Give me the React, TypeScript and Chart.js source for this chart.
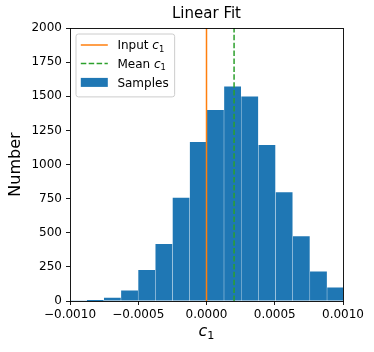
import { useEffect, useRef } from 'react';
import { Chart, registerables } from 'chart.js';

Chart.register(...registerables);

// ---- data ----
const binCenters = [
  -0.0009411, -0.0008153, -0.0006895, -0.0005637, -0.0004379, -0.0003121,
  -0.0001863, -0.0000605, 0.0000653, 0.0001911, 0.0003169, 0.0004427,
  0.0005685, 0.0006943, 0.0008201, 0.0009459,
];
const sampleCounts = [2, 8, 28, 80, 231, 421, 759, 1168, 1403, 1574, 1501, 1146, 800, 477, 220, 103];
const inputC1 = 0;
const meanC1 = 0.000202;
const yRange = [0, 2000];
const xRange = [-0.001, 0.001];
const xTickValues = [-0.001, -0.0005, 0, 0.0005, 0.001];
const xTickLabels = ['−0.0010', '−0.0005', '0.0000', '0.0005', '0.0010'];
const yTickValues = [0, 250, 500, 750, 1000, 1250, 1500, 1750, 2000];
const yTickLabels = ['0', '250', '500', '750', '1000', '1250', '1500', '1750', '2000'];
const legendLabels = ['Input', 'Mean', 'Samples'];
const chartTitle = 'Linear Fit';
const yTitle = 'Number';
const xTitleSymbol = 'c';
const xTitleSub = '1';

const BLUE = '#1f77b4';
const ORANGE = '#ff7f0e';
const GREEN = '#2ca02c';
const FONT = '"DejaVu Sans"';

function drawSymbolText(
  ctx: CanvasRenderingContext2D,
  parts: { text: string; italic?: boolean; sub?: boolean }[],
  x: number,
  baseline: number,
  size: number,
  measureOnly = false
) {
  let cx = x;
  for (const p of parts) {
    const fs = p.sub ? size * 0.7 : size;
    ctx.font = `${p.italic ? 'italic ' : ''}${fs}px ${FONT}`;
    const w = ctx.measureText(p.text).width;
    if (!measureOnly) {
      ctx.fillText(p.text, cx, p.sub ? baseline + size * 0.2 : baseline);
    }
    cx += w;
  }
  return cx - x;
}

const framePlugin = {
  id: 'mplFrame',
  afterDatasetsDraw(chart: any) {
    const ctx = chart.ctx as CanvasRenderingContext2D;
    const a = chart.chartArea;
    ctx.save();
    ctx.strokeStyle = '#000';
    ctx.lineWidth = 0.9;
    ctx.strokeRect(Math.round(a.left) + 0.5, Math.round(a.top) + 0.5, Math.round(a.right) - Math.round(a.left), Math.round(a.bottom) - Math.round(a.top));
    ctx.restore();
  },
};

const textPlugin = {
  id: 'mplText',
  afterDraw(chart: any) {
    const ctx = chart.ctx as CanvasRenderingContext2D;
    const a = chart.chartArea;
    ctx.save();
    ctx.fillStyle = '#000';
    ctx.textBaseline = 'alphabetic';
    ctx.textAlign = 'left';

    // x-axis title c_1
    const xParts = [
      { text: xTitleSymbol, italic: true },
      { text: xTitleSub, sub: true },
    ];
    const xw = drawSymbolText(ctx, xParts, 0, 0, 16, true);
    drawSymbolText(ctx, xParts, (a.left + a.right) / 2 - xw / 2, 336, 16);

    // legend
    const fs = 12;
    const x0 = a.left + 6;
    const y0 = a.top + 6;
    const rowCenters = [y0 + 11, y0 + 29.6, y0 + 48.4];
    const handleX0 = x0 + 4.8;
    const handleX1 = handleX0 + 27;
    const textX = handleX1 + 9.6;
    const rows = [
      [{ text: legendLabels[0] + ' ' }, { text: 'c', italic: true }, { text: '1', sub: true }],
      [{ text: legendLabels[1] + ' ' }, { text: 'c', italic: true }, { text: '1', sub: true }],
      [{ text: legendLabels[2] }],
    ];
    let maxW = 0;
    for (const r of rows) maxW = Math.max(maxW, drawSymbolText(ctx, r, 0, 0, fs, true));
    const fx1 = textX + maxW + 6;
    const fy1 = rowCenters[2] + 14.5;
    const r = 2.4;
    ctx.beginPath();
    ctx.moveTo(x0 + r, y0);
    ctx.lineTo(fx1 - r, y0);
    ctx.arcTo(fx1, y0, fx1, y0 + r, r);
    ctx.lineTo(fx1, fy1 - r);
    ctx.arcTo(fx1, fy1, fx1 - r, fy1, r);
    ctx.lineTo(x0 + r, fy1);
    ctx.arcTo(x0, fy1, x0, fy1 - r, r);
    ctx.lineTo(x0, y0 + r);
    ctx.arcTo(x0, y0, x0 + r, y0, r);
    ctx.closePath();
    ctx.fillStyle = 'rgba(255,255,255,0.8)';
    ctx.fill();
    ctx.strokeStyle = '#cccccc';
    ctx.lineWidth = 1;
    ctx.stroke();

    // handles
    ctx.lineWidth = 1.5;
    ctx.strokeStyle = ORANGE;
    ctx.setLineDash([]);
    ctx.beginPath();
    ctx.moveTo(handleX0, rowCenters[0]);
    ctx.lineTo(handleX1, rowCenters[0]);
    ctx.stroke();
    ctx.strokeStyle = GREEN;
    ctx.setLineDash([5.5, 2.4]);
    ctx.beginPath();
    ctx.moveTo(handleX0, rowCenters[1]);
    ctx.lineTo(handleX1, rowCenters[1]);
    ctx.stroke();
    ctx.setLineDash([]);
    ctx.fillStyle = BLUE;
    ctx.fillRect(handleX0, rowCenters[2] - 4.5, handleX1 - handleX0, 9);

    ctx.fillStyle = '#000';
    rows.forEach((row, i) => {
      drawSymbolText(ctx, row, textX, rowCenters[i] + 4.4, fs);
    });
    ctx.restore();
  },
};

export default function App() {
  const ref = useRef<HTMLCanvasElement | null>(null);

  useEffect(() => {
    if (!ref.current) return;
    const tickFont = { family: FONT, size: 12 };
    const chart = new Chart(ref.current, {
      type: 'bar',
      data: {
        datasets: [
          {
            type: 'line',
            label: 'Input c₁',
            data: [
              { x: inputC1, y: yRange[0] },
              { x: inputC1, y: yRange[1] },
            ],
            borderColor: ORANGE,
            borderWidth: 1.5,
            pointRadius: 0,
            fill: false,
            order: 1,
            clip: 0,
          } as any,
          {
            type: 'line',
            label: 'Mean c₁',
            data: [
              { x: meanC1, y: yRange[0] },
              { x: meanC1, y: yRange[1] },
            ],
            borderColor: GREEN,
            borderWidth: 1.5,
            borderDash: [5.5, 2.4],
            pointRadius: 0,
            fill: false,
            order: 1,
            clip: 0,
          } as any,
          {
            type: 'bar',
            label: 'Samples',
            data: binCenters.map((c, i) => ({ x: c, y: sampleCounts[i] })),
            backgroundColor: BLUE,
            borderColor: 'rgba(255,255,255,0.14)',
            borderWidth: { left: 0.5, right: 0.5, top: 0.8, bottom: 0 },
            barPercentage: 1,
            categoryPercentage: 1,
            order: 2,
            clip: 0,
          } as any,
        ],
      },
      options: {
        responsive: false,
        animation: false,
        devicePixelRatio: 1,
        layout: { padding: { left: 0, right: 31, top: 0, bottom: 0 } },
        plugins: {
          legend: { display: false },
          tooltip: { enabled: false },
          title: {
            display: true,
            text: chartTitle,
            fullSize: false,
            color: '#000',
            font: { family: FONT, size: 15, weight: 'normal' },
            padding: { top: 5, bottom: 5 },
          },
        },
        scales: {
          x: {
            type: 'linear',
            min: xRange[0],
            max: xRange[1],
            offset: false,
            grid: { display: true, drawOnChartArea: false, drawTicks: true, tickLength: 4, color: '#000', lineWidth: 0.9, offset: false },
            border: { display: false },
            afterBuildTicks: (scale: any) => {
              scale.ticks = xTickValues.map((v) => ({ value: v }));
            },
            afterFit: (scale: any) => {
              scale.height = 51;
            },
            ticks: {
              autoSkip: false,
              maxRotation: 0,
              color: '#000',
              font: tickFont,
              padding: 3,
              callback: (_v: any, i: number) => xTickLabels[i],
            },
          },
          y: {
            type: 'linear',
            min: yRange[0],
            max: yRange[1],
            grid: { display: true, drawOnChartArea: false, drawTicks: true, tickLength: 4, color: '#000', lineWidth: 0.9 },
            border: { display: false },
            afterBuildTicks: (scale: any) => {
              scale.ticks = yTickValues.map((v) => ({ value: v }));
            },
            afterFit: (scale: any) => {
              scale.width = 70;
            },
            title: {
              display: true,
              text: yTitle,
              color: '#000',
              font: { family: FONT, size: 16 },
              padding: { top: 6, bottom: 0 },
            },
            ticks: {
              autoSkip: false,
              color: '#000',
              font: tickFont,
              padding: 4,
              callback: (_v: any, i: number) => yTickLabels[i],
            },
          },
        },
      } as any,
      plugins: [framePlugin, textPlugin],
    });
    return () => chart.destroy();
  }, []);

  return (
    <div style={{ position: 'fixed', left: 0, top: 0, width: 374, height: 352, background: '#fff' }}>
      <canvas ref={ref} width={374} height={352} style={{ width: 374, height: 352, display: 'block' }} />
    </div>
  );
}
